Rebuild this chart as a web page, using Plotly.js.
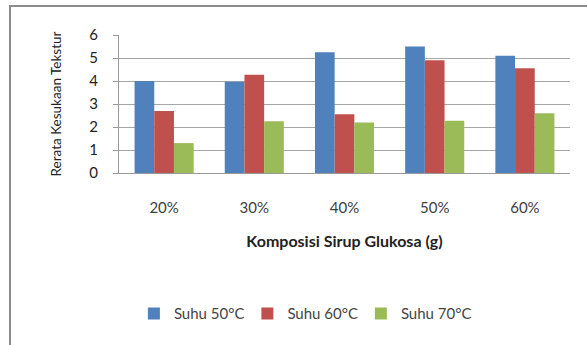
<!DOCTYPE html>
<html>
<head>
<meta charset="utf-8">
<script src="https://cdn.plot.ly/plotly-3.0.1.min.js"></script>
<style>
  html, body { margin: 0; padding: 0; background: #fff; overflow: hidden; }
  #wrap { position: relative; width: 587px; height: 345px; }
  #chart { position: absolute; left: 0; top: 0; width: 587px; height: 345px; }
  #frame {
    position: absolute; left: 9px; top: 5px; width: 700px; height: 500px;
    border-top: 2px solid #8c8c8c; border-left: 2px solid #8c8c8c;
    pointer-events: none;
  }
</style>
</head>
<body>
<div id="wrap">
  <div id="chart"></div>
  <div id="frame"></div>
</div>
<script>
// Glucose syrup composition on the x axis
const categories = ['20%', '30%', '40%', '50%', '60%'];

// Mean texture preference score per drying temperature
const suhu50 = [4.0, 3.97, 5.25, 5.5, 5.1];
const suhu60 = [2.7, 4.27, 2.55, 4.9, 4.55];
const suhu70 = [1.3, 2.25, 2.2, 2.27, 2.6];

const seriesNames = ['Suhu 50°C', 'Suhu 60°C', 'Suhu 70°C'];
const seriesColors = ['#4F81BD', '#C0504D', '#9BBB59'];
const yTicks = [0, 1, 2, 3, 4, 5, 6];

const font = 'Lato, "Open Sans", sans-serif';

const traces = [suhu50, suhu60, suhu70].map((vals, i) => ({
  type: 'bar',
  name: seriesNames[i],
  x: categories,
  y: vals,
  marker: { color: seriesColors[i], line: { width: 0 } },
  hoverinfo: 'skip'
}));

const layout = {
  width: 587,
  height: 345,
  margin: { l: 119, r: 17, t: 35, b: 172 },
  paper_bgcolor: 'rgba(0,0,0,0)',
  plot_bgcolor: 'rgba(0,0,0,0)',
  barmode: 'group',
  bargap: 0.345,
  bargroupgap: 0,
  showlegend: true,
  legend: {
    orientation: 'h',
    x: 0.033, xanchor: 'left',
    y: -1.02, yanchor: 'middle',
    font: { family: font, size: 15, color: '#444' },
    entrywidth: 68.5,
    entrywidthmode: 'pixels',
    itemwidth: 30,
    bgcolor: 'rgba(0,0,0,0)'
  },
  font: { family: font, color: '#333' },
  xaxis: {
    type: 'category',
    showline: true,
    linecolor: '#9a9a9a',
    linewidth: 1,
    ticks: '',
    ticklabelstandoff: 21,
    tickfont: { family: font, size: 15, color: '#404040' },
    title: {
      text: 'Komposisi Sirup Glukosa (g)',
      font: { family: font, size: 16, color: '#222', weight: 'bold' },
      standoff: 20
    },
    fixedrange: true
  },
  yaxis: {
    range: [0, 6],
    tickvals: yTicks,
    showline: true,
    linecolor: '#9a9a9a',
    linewidth: 1,
    ticks: 'outside',
    ticklen: 5,
    tickcolor: '#9a9a9a',
    showgrid: true,
    gridcolor: '#a6a6a6',
    gridwidth: 1,
    zeroline: false,
    tickfont: { family: font, size: 15, color: '#222' },
    ticklabelstandoff: 12,
    title: {
      text: 'Rerata Kesukaan Tekstur',
      font: { family: font, size: 13.5, color: '#222' },
      standoff: 24
    },
    fixedrange: true
  }
};

Plotly.newPlot('chart', traces, layout, { displayModeBar: false, staticPlot: true });
</script>
</body>
</html>
